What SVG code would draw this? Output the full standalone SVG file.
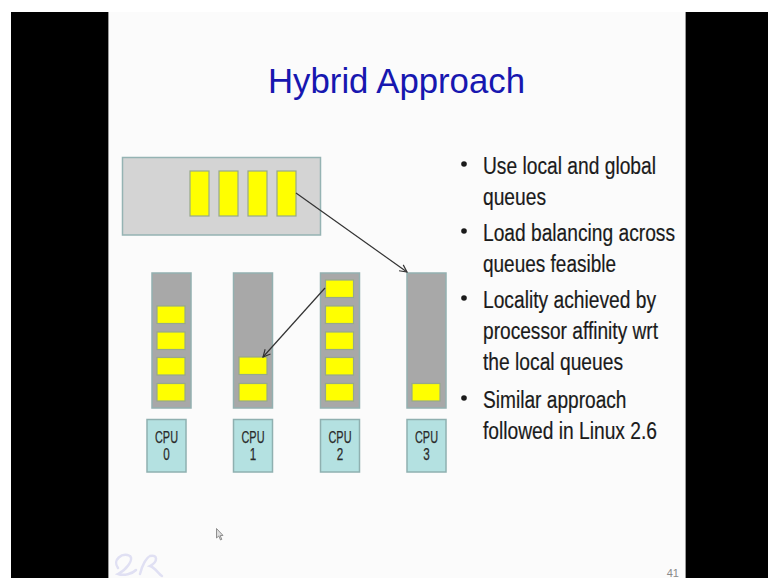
<svg xmlns="http://www.w3.org/2000/svg" width="768" height="578" viewBox="0 0 768 578">
  <defs>
    <marker id="openArrow" viewBox="0 0 10 10" refX="9" refY="5" markerWidth="9" markerHeight="9" markerUnits="userSpaceOnUse" orient="auto">
      <path d="M1,1 L9,5 L1,9" fill="none" stroke="#333" stroke-width="1.3"/>
    </marker>
  </defs>
  <style>
    .queue { fill: #d4d4d4; stroke: #95b3b3; stroke-width: 1.5; }
    .column { fill: #a8a8a8; stroke: #93b0b0; stroke-width: 1.5; }
    .task { fill: #ffff00; stroke: #97a98a; stroke-width: 1.2; }
    .cpu { fill: #b4e1e1; stroke: #8fb0b0; stroke-width: 1.5; }
    .cpuText { font-family: "Liberation Sans", Arial, sans-serif; font-size: 16px; fill: #2a2a2a; text-anchor: middle; stroke: #2a2a2a; stroke-width: 0.25; }
    .bullet { font-family: "Liberation Sans", Arial, sans-serif; font-size: 23px; fill: #1a1a1a; stroke: #1a1a1a; stroke-width: 0.2; }
    .dot { fill: #1a1a1a; }
    .title { font-family: "Liberation Sans", Arial, sans-serif; font-size: 34.5px; fill: #1717b0; }
    .conn { stroke: #333; stroke-width: 1.2; fill: none; marker-end: url(#openArrow); }
  </style>

  <!-- frame -->
  <rect x="0" y="0" width="768" height="578" fill="#ffffff"/>
  <rect x="11" y="12" width="757" height="566" fill="#000000"/>
  <rect x="108" y="12" width="578" height="566" fill="#fbfbfb"/>
  <line x1="108.5" y1="12" x2="108.5" y2="578" stroke="#999" stroke-width="1"/>
  <line x1="685.5" y1="12" x2="685.5" y2="578" stroke="#999" stroke-width="1"/>

  <!-- title -->
  <text class="title" x="268" y="92.5" textLength="257" lengthAdjust="spacingAndGlyphs">Hybrid Approach</text>

  <!-- global queue -->
  <g id="global-queue">
    <rect class="queue" x="122.5" y="157.5" width="198" height="77.5"/>
    <rect class="task" x="190" y="171" width="19" height="45"/>
    <rect class="task" x="219" y="171" width="19" height="45"/>
    <rect class="task" x="248" y="171" width="19" height="45"/>
    <rect class="task" x="277" y="171" width="19" height="45"/>
  </g>

  <!-- local queues -->
  <g id="local-queue-0">
    <rect class="column" x="152" y="273" width="39" height="135"/>
    <rect class="task" x="157" y="306" width="28" height="17.5"/>
    <rect class="task" x="157" y="332" width="28" height="17.5"/>
    <rect class="task" x="157" y="357.5" width="28" height="17.5"/>
    <rect class="task" x="157" y="383.5" width="28" height="17.5"/>
  </g>
  <g id="local-queue-1">
    <rect class="column" x="233.5" y="273" width="39" height="135"/>
    <rect class="task" x="239" y="357" width="28" height="17.5"/>
    <rect class="task" x="239" y="383.5" width="28" height="17.5"/>
  </g>
  <g id="local-queue-2">
    <rect class="column" x="320.5" y="273" width="39" height="135"/>
    <rect class="task" x="325.5" y="280" width="28" height="17.5"/>
    <rect class="task" x="325.5" y="306" width="28" height="17.5"/>
    <rect class="task" x="325.5" y="332" width="28" height="17.5"/>
    <rect class="task" x="325.5" y="357.5" width="28" height="17.5"/>
    <rect class="task" x="325.5" y="383.5" width="28" height="17.5"/>
  </g>
  <g id="local-queue-3">
    <rect class="column" x="407" y="273" width="39" height="135"/>
    <rect class="task" x="412" y="383.5" width="28" height="17.5"/>
  </g>

  <!-- processors -->
  <g id="cpu-0">
    <rect class="cpu" x="147" y="419.5" width="39" height="52.5"/>
    <text class="cpuText" x="166.5" y="443" textLength="23" lengthAdjust="spacingAndGlyphs">CPU</text>
    <text class="cpuText" x="166.5" y="460" textLength="6.5" lengthAdjust="spacingAndGlyphs">0</text>
  </g>
  <g id="cpu-1">
    <rect class="cpu" x="233.5" y="419.5" width="39" height="52.5"/>
    <text class="cpuText" x="253" y="443" textLength="23" lengthAdjust="spacingAndGlyphs">CPU</text>
    <text class="cpuText" x="253" y="460" textLength="6.5" lengthAdjust="spacingAndGlyphs">1</text>
  </g>
  <g id="cpu-2">
    <rect class="cpu" x="320.5" y="419.5" width="39" height="52.5"/>
    <text class="cpuText" x="340" y="443" textLength="23" lengthAdjust="spacingAndGlyphs">CPU</text>
    <text class="cpuText" x="340" y="460" textLength="6.5" lengthAdjust="spacingAndGlyphs">2</text>
  </g>
  <g id="cpu-3">
    <rect class="cpu" x="407" y="419.5" width="39" height="52.5"/>
    <text class="cpuText" x="426.5" y="443" textLength="23" lengthAdjust="spacingAndGlyphs">CPU</text>
    <text class="cpuText" x="426.5" y="460" textLength="6.5" lengthAdjust="spacingAndGlyphs">3</text>
  </g>

  <!-- task migration arrows -->
  <g id="connectors">
    <line class="conn" x1="296" y1="193" x2="407" y2="272"/>
    <line class="conn" x1="325" y1="288" x2="263" y2="357"/>
  </g>

  <!-- bullet list -->
  <g id="bullets">
    <circle class="dot" cx="464" cy="164" r="2.8"/>
    <circle class="dot" cx="464" cy="231" r="2.8"/>
    <circle class="dot" cx="464" cy="298" r="2.8"/>
    <circle class="dot" cx="464" cy="398" r="2.8"/>
    <text class="bullet" x="483" y="174" textLength="173" lengthAdjust="spacingAndGlyphs">Use local and global</text>
    <text class="bullet" x="483" y="204.5" textLength="63" lengthAdjust="spacingAndGlyphs">queues</text>
    <text class="bullet" x="483" y="241" textLength="192" lengthAdjust="spacingAndGlyphs">Load balancing across</text>
    <text class="bullet" x="483" y="272" textLength="133" lengthAdjust="spacingAndGlyphs">queues feasible</text>
    <text class="bullet" x="483" y="308" textLength="173" lengthAdjust="spacingAndGlyphs">Locality achieved by</text>
    <text class="bullet" x="483" y="339" textLength="175" lengthAdjust="spacingAndGlyphs">processor affinity wrt</text>
    <text class="bullet" x="483" y="370" textLength="140" lengthAdjust="spacingAndGlyphs">the local queues</text>
    <text class="bullet" x="483" y="408" textLength="143.5" lengthAdjust="spacingAndGlyphs">Similar approach</text>
    <text class="bullet" x="483" y="439" textLength="174" lengthAdjust="spacingAndGlyphs">followed in Linux 2.6</text>
  </g>

  <!-- faint logo mark, bottom left -->
  <g fill="none" stroke="#e0e0f3" stroke-width="2.5" stroke-linecap="round">
    <path d="M118,568 C112,560 122,552 130,556 C134,560 126,570 118,574 C124,576 132,574 136,570"/>
    <path d="M140,574 C142,566 146,558 150,556 C158,554 158,562 150,566 C156,568 158,574 162,576"/>
  </g>

  <!-- mouse pointer -->
  <path d="M216.5,528.5 L216.5,538 L218.8,536 L220.5,540 L221.8,539.4 L220.2,535.6 L223,535.4 Z" fill="#ddd" stroke="#777" stroke-width="0.8"/>

  <!-- slide number -->
  <text x="679" y="577" text-anchor="end" font-family="Liberation Sans, Arial, sans-serif" font-size="11" fill="#8a8a8a">41</text>
</svg>
